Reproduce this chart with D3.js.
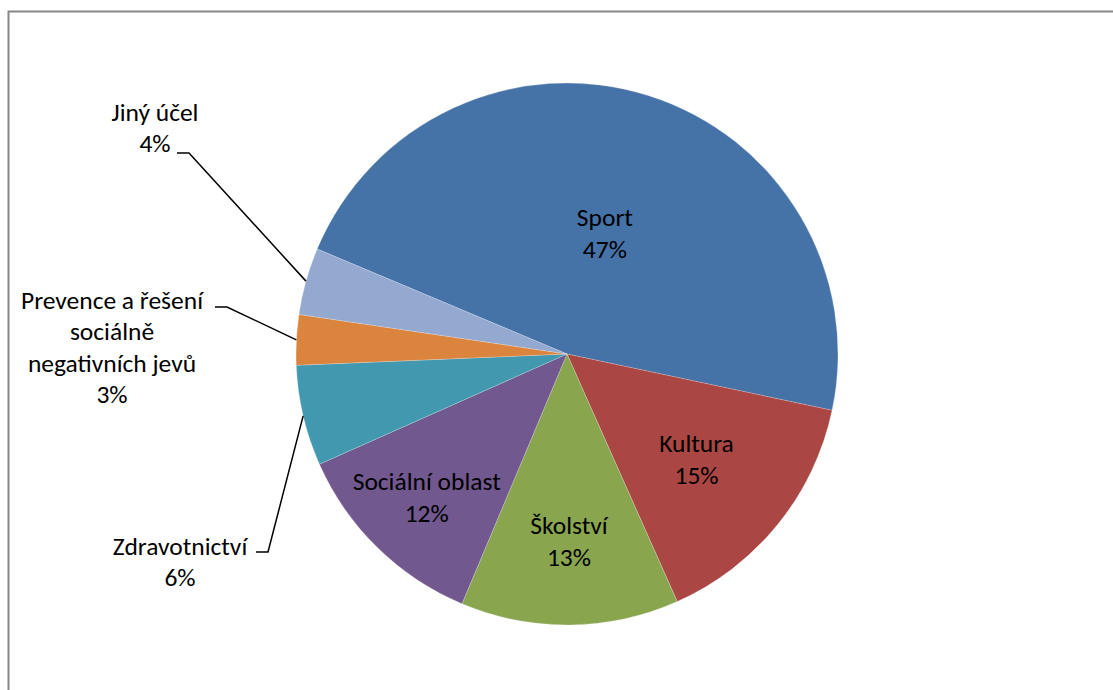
<!DOCTYPE html>
<html>
<head>
<meta charset="utf-8">
<script src="https://cdn.jsdelivr.net/npm/d3@7"></script>
<style>
  html, body { margin: 0; padding: 0; background: #fff; }
  svg { display: block; }
  text { font-family: Calibri, Carlito, Lato, "DejaVu Sans", sans-serif; fill: #000; }
</style>
</head>
<body>
<div id="chart"></div>
<script>
// Podíl dotací podle účelu (koláč, popisky uvnitř i s vodícími čarami)
const categories = ["Sport", "Kultura", "Školství", "Sociální oblast", "Zdravotnictví", "Prevence a řešení sociálně negativních jevů", "Jiný účel"];
const values = [47, 15, 13, 12, 6, 3, 4];
const labelLines = [
  ["Sport"], ["Kultura"], ["Školství"], ["Sociální oblast"], ["Zdravotnictví"],
  ["Prevence a řešení", "sociálně", "negativních jevů"], ["Jiný účel"]
];
const colors = ["#4572A7", "#AA4643", "#89A54E", "#71588F", "#4198AF", "#DB843D", "#93A9CF"];

const W = 1113, H = 690;
const cx = 567, cy = 354, R = 271;
const fontSize = 25.5, lineH = 31.5;

// umístění popisků: uvnitř = poměr poloměru, venku = střed textu + začátek vodící čáry
const inside = { 0: 0.467, 1: 0.615, 2: 0.69, 3: 0.74 };
const outside = {
  4: { x: 180, y: 546, lx: 256, ly: 552 },
  5: { x: 112, y: 300, lx: 215, ly: 307 },
  6: { x: 155, y: 112, lx: 177, ly: 153 }
};

const svg = d3.select("#chart").append("svg").attr("width", W).attr("height", H);

svg.append("rect")
  .attr("x", 8.5).attr("y", 11.5).attr("width", W + 10).attr("height", H + 10)
  .attr("fill", "#fff").attr("stroke", "#878787").attr("stroke-width", 2);

const data = categories.map((c, i) => ({ name: c, value: values[i], i }));
const pie = d3.pie().value((d) => d.value).sort(null)
  .startAngle(-67.2 * Math.PI / 180).endAngle((360 - 67.2) * Math.PI / 180);
const arcs = pie(data);
const arc = d3.arc().innerRadius(0).outerRadius(R);

const g = svg.append("g").attr("transform", `translate(${cx},${cy})`);
g.selectAll("path.slice").data(arcs).join("path")
  .attr("class", "slice")
  .attr("d", arc)
  .attr("fill", (d) => colors[d.data.i])
  .attr("stroke", "rgba(255,255,255,0.35)").attr("stroke-width", 0.6);

const mid = (d) => (d.startAngle + d.endAngle) / 2;
const polar = (a, r) => [r * Math.sin(a), -r * Math.cos(a)];

// vodící čáry
arcs.filter((d) => outside[d.data.i]).forEach((d) => {
  const o = outside[d.data.i];
  const [ex, ey] = polar(mid(d), R);
  const dir = o.lx < cx ? 1 : -1;
  svg.append("path")
    .attr("d", d3.line()([[o.lx, o.ly], [o.lx + 12 * dir, o.ly], [cx + ex, cy + ey]]))
    .attr("fill", "none").attr("stroke", "#000").attr("stroke-width", 1.5);
});

// popisky
arcs.forEach((d) => {
  const i = d.data.i;
  let x, y;
  const lines = labelLines[i].concat([d.data.value + "%"]);
  if (inside[i] != null) {
    const [px, py] = polar(mid(d), R * inside[i]);
    x = cx + px; y = cy + py - (lines.length - 1) * lineH / 2;
  } else {
    x = outside[i].x; y = outside[i].y;
  }
  const t = svg.append("text").attr("text-anchor", "middle").attr("font-size", fontSize);
  lines.forEach((s, k) => {
    t.append("tspan").attr("x", x).attr("y", y + k * lineH).attr("dy", "0.35em").text(s);
  });
});
</script>
</body>
</html>
